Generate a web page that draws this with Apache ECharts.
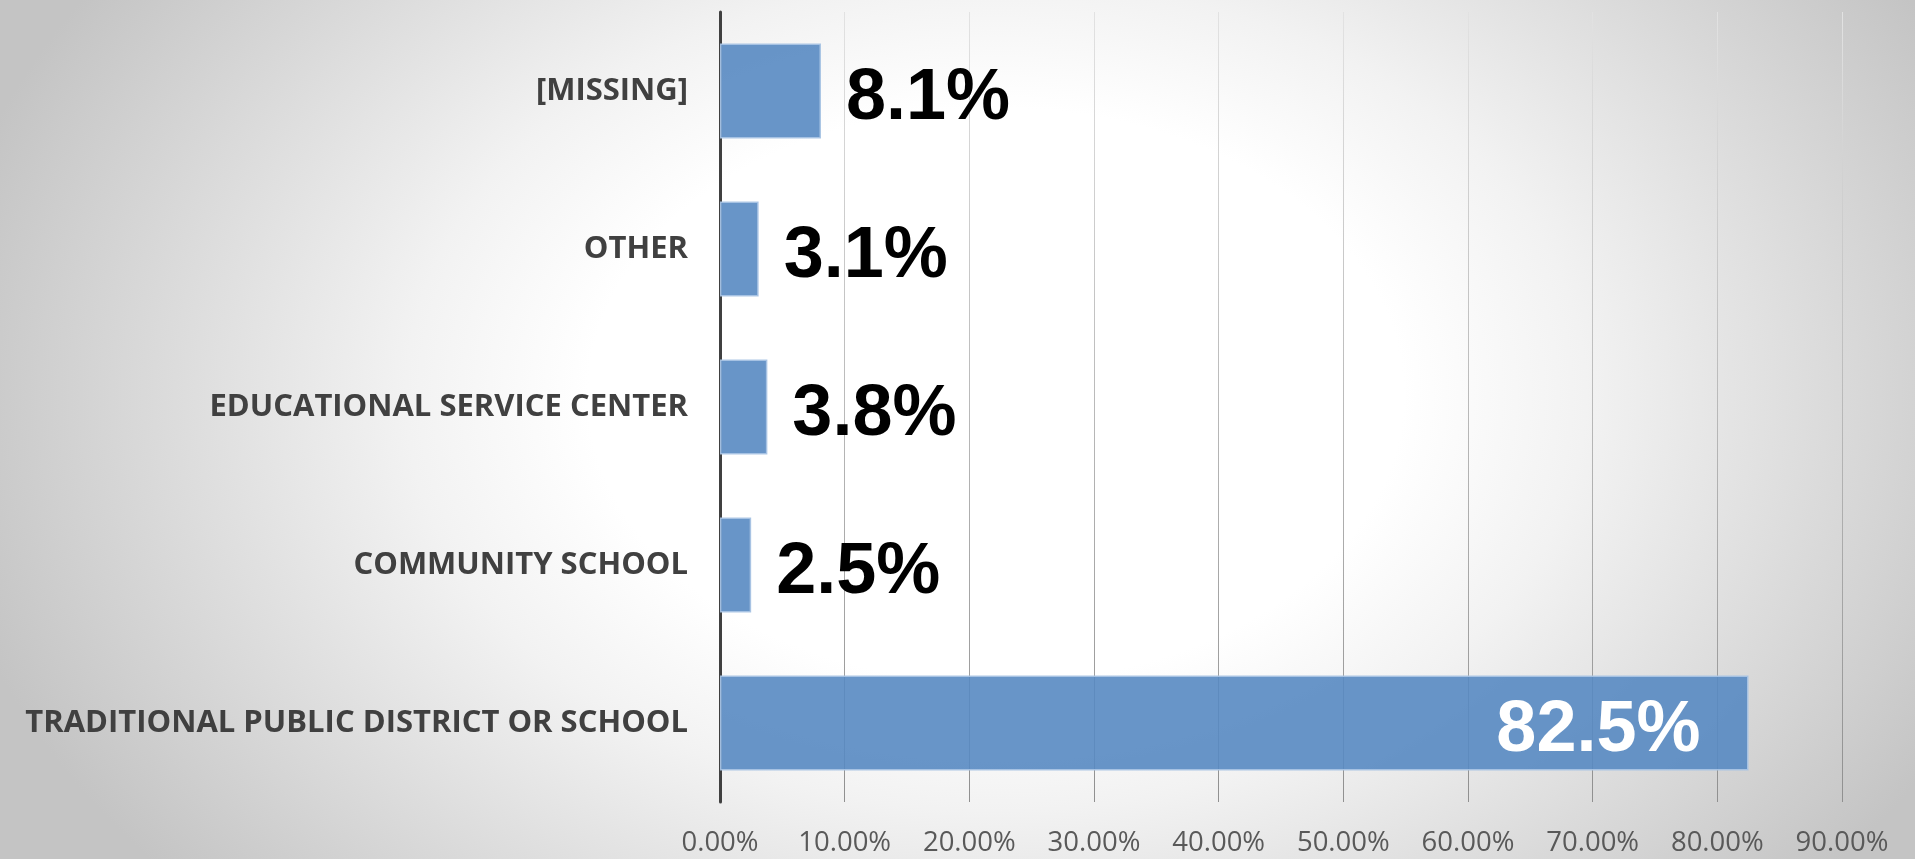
<!DOCTYPE html>
<html>
<head>
<meta charset="utf-8">
<script src="https://cdn.jsdelivr.net/npm/echarts@6/dist/echarts.min.js"></script>
<style>
  html, body { margin: 0; padding: 0; }
  #chart {
    width: 1915px;
    height: 859px;
    background: radial-gradient(ellipse 56% 88% at 52% 46%, #ffffff 38%, #f2f2f2 55%, #c4c4c4 100%);
  }
</style>
</head>
<body>
<div id="chart"></div>
<script>
// bottom to top, same order the category axis draws them
const categories = [
  'TRADITIONAL PUBLIC DISTRICT OR SCHOOL',
  'COMMUNITY SCHOOL',
  'EDUCATIONAL SERVICE CENTER',
  'OTHER',
  '[MISSING]'
]
const shares = [82.5, 2.5, 3.8, 3.1, 8.1]
const axisTicks = [0, 10, 20, 30, 40, 50, 60, 70, 80, 90]

const chart = echarts.init(document.getElementById('chart'))

const barData = shares.map(v => {
  if (v > 50) {
    return {
      value: v,
      label: { position: 'insideRight', distance: 48, color: '#ffffff' }
    }
  }
  return v
})

const option = {
  backgroundColor: 'transparent',
  animation: false,
  grid: { left: 720, right: 73, top: 12, bottom: 57, containLabel: false },
  xAxis: {
    type: 'value',
    min: axisTicks[0],
    max: axisTicks[axisTicks.length - 1],
    interval: axisTicks[1] - axisTicks[0],
    axisLine: { show: false },
    axisTick: { show: false },
    axisLabel: {
      margin: 27,
      color: '#595959',
      fontFamily: 'Open Sans',
      fontSize: 27.5,
      formatter: v => v.toFixed(2) + '%'
    },
    splitLine: {
      lineStyle: {
        width: 1,
        color: {
          type: 'linear', global: true,
          x: 0, y: 12, x2: 0, y2: 802,
          colorStops: [
            { offset: 0, color: '#e2e2e2' },
            { offset: 1, color: '#909090' }
          ]
        }
      }
    }
  },
  yAxis: {
    type: 'category',
    data: categories,
    axisTick: { show: false },
    axisLine: { lineStyle: { color: '#404040', width: 3 } },
    axisLabel: {
      margin: 32,
      color: '#404040',
      fontFamily: 'Open Sans',
      fontWeight: 'bold',
      fontSize: 31
    },
    splitLine: { show: false }
  },
  series: [{
    type: 'bar',
    data: barData,
    barCategoryGap: '40%',
    itemStyle: {
      color: 'rgba(88,138,194,0.9)',
      borderColor: 'rgba(168,195,228,0.95)',
      borderWidth: 1.5
    },
    label: {
      show: true,
      position: 'right',
      distance: 25,
      offset: [0, 8],
      color: '#000000',
      fontFamily: 'Liberation Sans',
      fontWeight: 'bold',
      fontSize: 72,
      formatter: p => p.value.toFixed(1) + '%'
    }
  }]
}

chart.setOption(option)
</script>
</body>
</html>
